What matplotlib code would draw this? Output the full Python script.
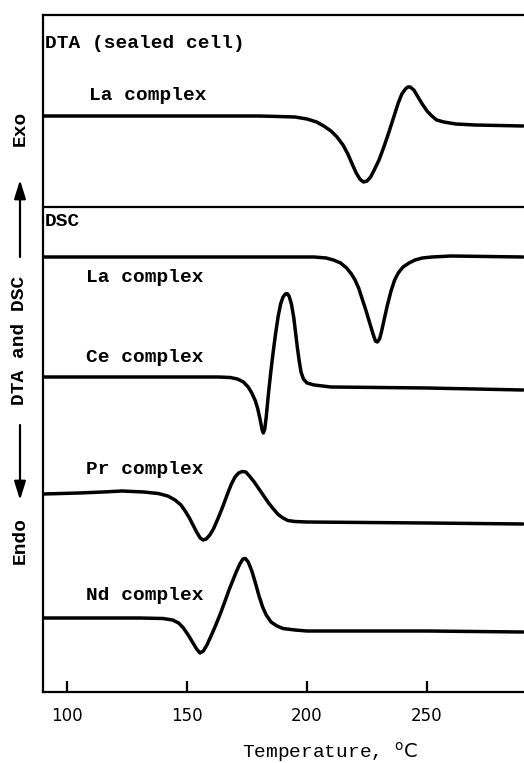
import matplotlib
matplotlib.use("Agg")
import matplotlib.pyplot as plt
from matplotlib.patches import FancyArrowPatch

plt.rcParams["mathtext.fontset"] = "custom"
plt.rcParams["mathtext.rm"] = "DejaVu Sans"

MONO = "Liberation Mono"

# temperature (C) and signal (arbitrary units, traces stacked with offsets)
dta_la_t = [90, 150, 180, 188, 195, 200, 204, 207, 210, 212.5, 215, 217, 219, 220.5,
            222, 223.5, 225, 226.5, 228, 230, 232, 234, 236, 238, 239.5, 241, 242, 243,
            244.5, 246, 248, 250, 252, 254, 257, 262, 270, 290]
dta_la_y = [576, 576, 576, 575.5, 575, 573, 570, 566, 561, 555, 547, 538, 527, 519,
            513, 510, 511, 515, 522, 532, 545, 559, 574, 589, 598, 603, 605, 605,
            602, 596, 588, 581, 576, 572, 570, 568, 567, 566]

dsc_la_t = [90, 195, 203, 208, 211, 214, 216.5, 218.5, 220, 221.5, 223, 224.5, 226,
            227.5, 228.5, 229.3, 230.2, 231, 232, 233.5, 235, 236.5, 238, 240, 242.5,
            245, 248, 252, 260, 290]
dsc_la_y = [435, 435, 435, 434, 432, 429, 424, 418, 412, 404, 393, 382, 370,
            358, 351, 350, 353, 360, 371, 387, 401, 412, 419, 425, 429,
            432, 434, 435, 436, 435]

dsc_ce_t = [90, 150, 163, 168, 171, 173.5, 175.5, 177, 178.5, 179.5, 180.5, 181.3,
            181.8, 182.4, 183, 184, 185, 186, 187, 188, 189, 190, 191, 191.7, 192.5,
            193.5, 194.5, 195.3, 196, 196.8, 197.5, 198.5, 200, 203, 210, 250, 290]
dsc_ce_y = [315, 315, 315, 314.5, 313, 310, 305, 299, 291, 283, 272, 262,
            259, 263, 275, 300, 322, 342, 360, 376, 388, 395, 398, 398.5, 396,
            388, 374, 358, 344, 330, 320, 313, 309, 307, 305, 304, 302]

dsc_pr_t = [90, 105, 115, 123, 132, 138, 142, 145, 147.5, 149.5, 151, 152.5, 154,
            155.5, 156.7, 158, 159.5, 161, 163, 165, 167, 168.5, 170, 171.5, 173,
            174.5, 176, 178, 180, 182, 184, 186, 188, 190, 192, 195, 200, 250, 290]
dsc_pr_y = [198, 199, 200, 201, 200, 198.5, 196, 192, 187, 180, 174, 167, 160,
            154, 152, 153, 157, 163, 174, 186, 199, 208, 215, 219, 220.5,
            220, 216, 210, 203, 196, 189, 183, 177.5, 174, 171.5, 170.5, 170, 169, 168]

dsc_nd_t = [90, 130, 140, 144, 146.5, 148.5, 150.5, 152.5, 154, 155.4, 156.8, 158.3,
            160, 162, 164, 166, 167.5, 169, 170.5, 172, 173.3, 174.3, 175.5, 177,
            178.5, 180, 181.5, 183, 185, 187.5, 190, 195, 200, 250, 290]
dsc_nd_y = [74, 74, 73.5, 72, 69, 64, 57, 49, 43, 39, 41, 47,
            56, 67, 79, 92, 102, 111, 120, 128, 133, 133.5, 130, 121,
            109, 96, 85, 77, 70, 66, 63.5, 62, 61, 61, 60]

trace_labels = ["La complex", "La complex", "Ce complex", "Pr complex", "Nd complex"]
label_x = [109.2, 107.9, 107.9, 107.9, 107.9]
label_y = [597, 414, 334, 223, 97]

x_ticks = [100, 150, 200, 250]

traces = [(dta_la_t, dta_la_y), (dsc_la_t, dsc_la_y), (dsc_ce_t, dsc_ce_y),
          (dsc_pr_t, dsc_pr_y), (dsc_nd_t, dsc_nd_y)]

fig = plt.figure(figsize=(5.24, 7.63), dpi=100)
ax = fig.add_axes([43 / 524, 71 / 763, 481 / 524, 677 / 763])

for (t, y), label, lx_, ly_ in zip(traces, trace_labels, label_x, label_y):
    ax.plot(t, y, color="black", lw=2.5, solid_capstyle="round", solid_joinstyle="round")
    ax.text(lx_, ly_, label, family=MONO, fontweight="bold", fontsize=14,
            va="center", ha="left")

ax.axhline(485, color="black", lw=1.6)
ax.text(90.8, 649, "DTA (sealed cell)", family=MONO, fontweight="bold", fontsize=14,
        va="center", ha="left")
ax.text(90.8, 470, "DSC", family=MONO, fontweight="bold", fontsize=14,
        va="center", ha="left")

ax.set_xlim(90, 290.4)
ax.set_ylim(0, 677)
ax.set_xticks(x_ticks)
ax.set_xticklabels([str(v) for v in x_ticks], family="DejaVu Sans", fontsize=12)
ax.set_yticks([])
ax.tick_params(axis="x", direction="in", length=8, width=1.6, pad=11)
for side in ["left", "top", "bottom"]:
    ax.spines[side].set_linewidth(1.6)
ax.spines["right"].set_visible(False)

# rotated y label made of pieces
lx = 20 / 524


def fy(py):
    return 1 - py / 763


for txt, py in [("Exo", 128), ("DTA and DSC", 340), ("Endo", 541)]:
    fig.text(lx, fy(py), txt, rotation=90, family=MONO, fontweight="bold",
             fontsize=14, ha="center", va="center")

arrow = dict(arrowstyle="-|>,head_length=0.8,head_width=0.25", color="black",
             lw=1.6, mutation_scale=14, shrinkA=0, shrinkB=0)
fig.add_artist(FancyArrowPatch((lx, fy(257)), (lx, fy(180)),
                               transform=fig.transFigure, **arrow))
fig.add_artist(FancyArrowPatch((lx, fy(425)), (lx, fy(500)),
                               transform=fig.transFigure, **arrow))

fig.text(330 / 524, fy(752), r"Temperature, $^{\mathrm{o}}\mathrm{C}$", family=MONO,
         fontsize=14, ha="center", va="center")

fig.savefig("out.png", dpi=100)
